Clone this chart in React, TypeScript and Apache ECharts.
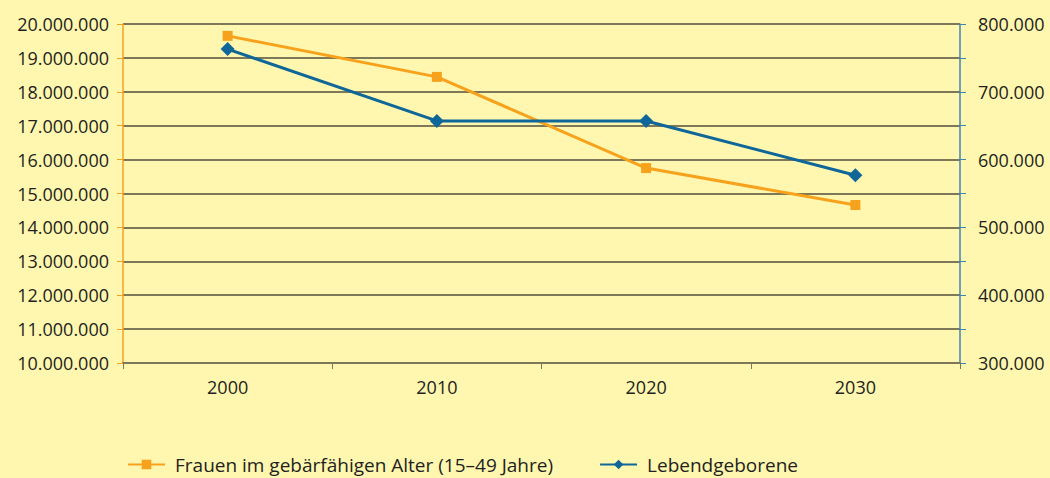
import React, { useEffect, useRef } from "react";
import * as echarts from "echarts";

const categories = ["2000", "2010", "2020", "2030"];
const frauen = [19650000, 18440000, 15750000, 14660000];
const geborene = [763000, 657000, 657000, 577000];
const seriesNames = ["Frauen im gebärfähigen Alter (15–49 Jahre)", "Lebendgeborene"];

const fmt = (v: number) => String(Math.round(v)).replace(/\B(?=(\d{3})+(?!\d))/g, ".");

const FONT = "'Open Sans', 'Noto Sans', sans-serif";
const ORANGE = "#F7A21C";
const BLUE = "#0F6699";
const GRID = "#7d7858";
const TEXT = "#231f20";

export default function App() {
  const ref = useRef<HTMLDivElement>(null);
  useEffect(() => {
    const chart = echarts.init(ref.current!, null, { renderer: "svg" });
    chart.setOption({
      animation: false,
      backgroundColor: "#FFF7AF",
      grid: { left: 123, right: 90, top: 24, bottom: 115, containLabel: false },
      legend: {
        top: 450,
        left: 122,
        itemWidth: 37,
        itemHeight: 12,
        itemGap: 46,
        textStyle: { fontFamily: FONT, fontSize: 19, color: TEXT, padding: [0, 0, 0, 5] },
        data: seriesNames,
      },
      xAxis: {
        type: "category",
        data: categories,
        boundaryGap: true,
        axisLine: { lineStyle: { color: GRID, width: 2 } },
        axisTick: { show: true, length: 6, lineStyle: { color: GRID } },
        axisLabel: { fontFamily: FONT, fontSize: 18, color: TEXT, margin: 15 },
      },
      yAxis: [
        {
          type: "value",
          min: 10000000,
          max: 20000000,
          interval: 1000000,
          position: "left",
          axisLine: { show: true, lineStyle: { color: ORANGE, width: 1.5 } },
          axisTick: { show: true, length: 6, lineStyle: { color: ORANGE } },
          splitLine: { show: true, lineStyle: { color: GRID, width: 2 } },
          axisLabel: { fontFamily: FONT, fontSize: 18, color: TEXT, margin: 14, formatter: (v: number) => fmt(v) },
        },
        {
          type: "value",
          min: 300000,
          max: 800000,
          interval: 50000,
          position: "right",
          axisLine: { show: true, lineStyle: { color: "#3b87b5", width: 1.5 } },
          axisTick: { show: true, length: 6, lineStyle: { color: "#3b87b5" } },
          splitLine: { show: false },
          axisLabel: {
            fontFamily: FONT,
            fontSize: 18,
            color: TEXT,
            margin: 18,
            formatter: (v: number) => (Math.round(v) % 100000 === 0 ? fmt(v) : ""),
          },
        },
      ],
      series: [
        {
          name: seriesNames[0],
          type: "line",
          yAxisIndex: 0,
          data: frauen,
          symbol: "rect",
          symbolSize: 10,
          lineStyle: { color: ORANGE, width: 3 },
          itemStyle: { color: ORANGE },
        },
        {
          name: seriesNames[1],
          type: "line",
          yAxisIndex: 1,
          data: geborene,
          symbol: "diamond",
          symbolSize: 14,
          lineStyle: { color: BLUE, width: 3 },
          itemStyle: { color: BLUE },
        },
      ],
    });
    return () => chart.dispose();
  }, []);
  return <div ref={ref} style={{ width: 1050, height: 478, position: "absolute", left: 0, top: 0 }} />;
}
